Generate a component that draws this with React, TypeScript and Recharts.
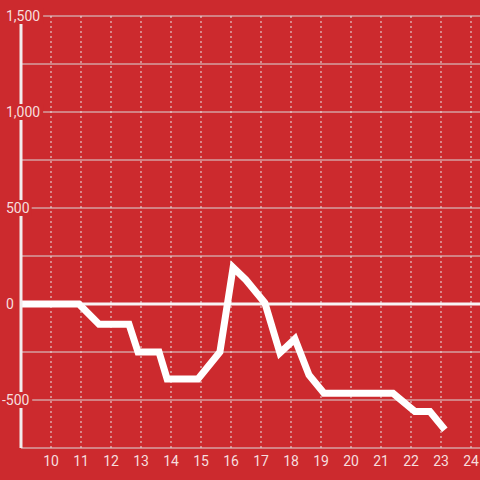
import React from "react";
import {
  LineChart,
  Line,
  XAxis,
  YAxis,
  CartesianGrid,
  ReferenceLine,
} from "recharts";

// hour of day (decimal) and value
const hours = [9, 10.93, 11.6, 12.6, 12.9, 13.6, 13.87, 14.9, 15.63, 16.07, 16.5, 17.13, 17.63, 18.13, 18.6, 19.1, 21.4, 22.13, 22.63, 23.13];
const values = [0, 0, -105, -105, -250, -250, -390, -390, -250, 190, 125, 5, -255, -182, -370, -465, -465, -560, -560, -655];

const xTicks = [10, 11, 12, 13, 14, 15, 16, 17, 18, 19, 20, 21, 22, 23, 24];
const yTicks = [-500, 0, 500, 1000, 1500];
const gridLines = [-500, -250, 0, 250, 500, 750, 1000, 1250, 1500];

const BG = "#cc2a2e";
const TEXT = "#f6dede";
const FONT = "Roboto, 'Liberation Sans', sans-serif";

const data = hours.map((h, i) => ({ h, v: values[i] }));

// rough label width for 14px Roboto
const textWidth = (s: string) =>
  s.split("").reduce((w, c) => w + (c === "," ? 3.5 : c === "-" ? 4.5 : 7.9), 0);

const YTick = (props: any) => {
  const { y, payload } = props;
  const label = Number(payload.value).toLocaleString("en-US");
  const x0 = payload.value < 0 ? 2 : 6;
  const w = textWidth(label);
  return (
    <g>
      <rect x={0} y={y - 8} width={x0 + w + 2} height={16} fill={BG} />
      <text x={x0} y={y} dy={5} fill={TEXT} fontSize={14} fontFamily={FONT} textAnchor="start">
        {label}
      </text>
    </g>
  );
};

export default function App() {
  return (
    <div style={{ position: "absolute", left: 0, top: 0, width: 480, height: 480, background: BG }}>
      <LineChart width={480} height={480} data={data} margin={{ top: 16, right: 0, bottom: 0, left: 0 }}>
        <CartesianGrid vertical={false} horizontalValues={gridLines} stroke="#d9d9d9" />
        <CartesianGrid horizontal={false} verticalValues={xTicks} stroke="#e6e6e6" strokeDasharray="2 3" />
        <ReferenceLine y={0} stroke="#f8f4f4" strokeWidth={3} />
        <XAxis
          dataKey="h"
          type="number"
          domain={[9, 24.3]}
          ticks={xTicks}
          interval={0}
          allowDataOverflow
          height={32}
          tickLine={false}
          axisLine={{ stroke: "#dcdcdc", strokeWidth: 1 }}
          tick={{ fill: TEXT, fontSize: 14, fontFamily: FONT }}
        />
        <Line
          type="linear"
          dataKey="v"
          stroke="#ffffff"
          strokeWidth={7}
          dot={false}
          activeDot={false}
          isAnimationActive={false}
        />
        <YAxis
          type="number"
          domain={[-750, 1500]}
          ticks={yTicks}
          interval={0}
          width={21}
          tickLine={false}
          axisLine={{ stroke: "#f2ecec", strokeWidth: 3 }}
          tick={<YTick />}
        />
      </LineChart>
    </div>
  );
}
